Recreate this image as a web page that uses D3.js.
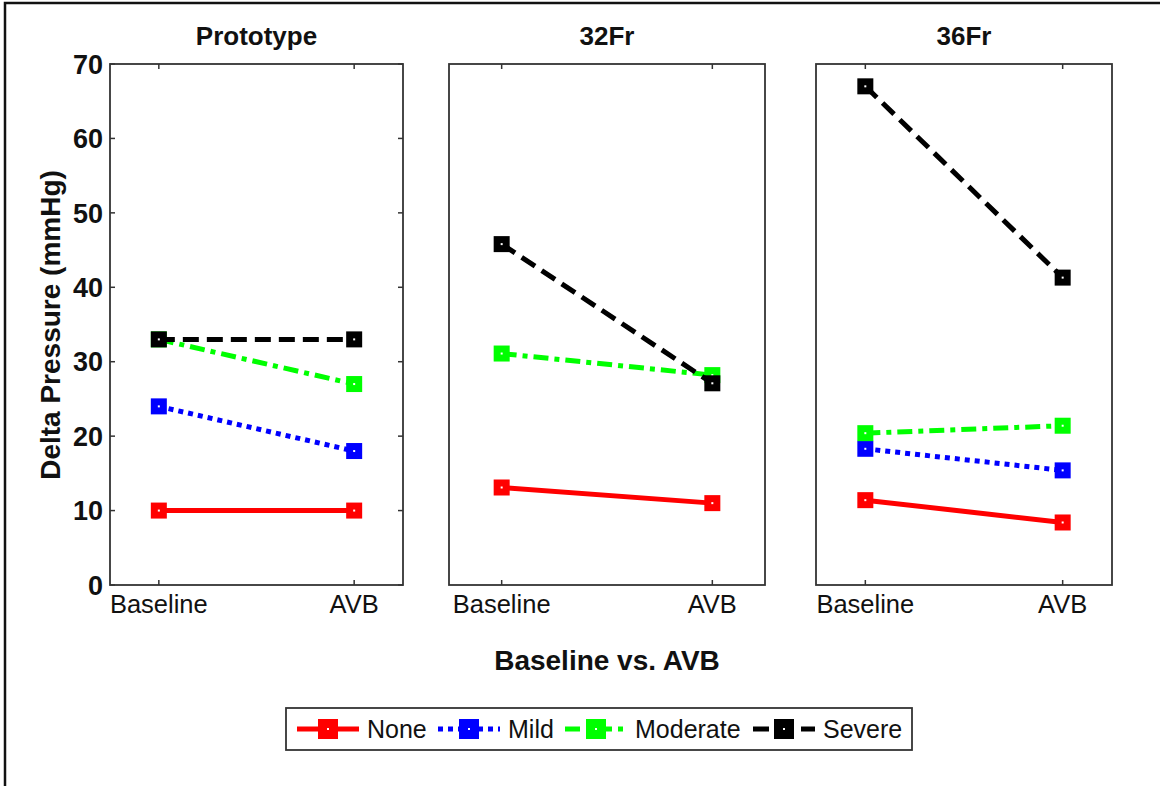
<!DOCTYPE html>
<html>
<head>
<meta charset="utf-8">
<script src="https://cdn.jsdelivr.net/npm/d3@7"></script>
<style>
  body { margin: 0; background: #fff; }
  svg { display: block; font-family: "Liberation Sans", Arial, sans-serif; }
</style>
</head>
<body>
<svg id="chart" width="1160" height="786"></svg>
<script>
// data
const panels = ["Prototype", "32Fr", "36Fr"];
const conditions = ["Baseline", "AVB"];
const severities = ["None", "Mild", "Moderate", "Severe"];
const noneVals = [[10, 10], [13.1, 11.0], [11.4, 8.4]];
const mildVals = [[24, 18], [null, null], [18.3, 15.4]];
const moderateVals = [[33, 27], [31.1, 28.2], [20.4, 21.4]];
const severeVals = [[33, 33], [45.8, 27.1], [67, 41.3]];
const yTicks = [0, 10, 20, 30, 40, 50, 60, 70];

let svg = d3.select("#chart");

// outer frame (only left / top edges visible)
svg.append("path")
    .attr("d", "M5,786V3H1160")
    .attr("fill", "none")
    .attr("stroke", "#111")
    .attr("stroke-width", 2.5);

let panelBox = [[110, 403], [449, 765], [816, 1112]];
let plotTop = 64, plotBottom = 585;

let y = d3.scaleLinear().domain([0, 70]).range([plotBottom, plotTop]);

let styles = [
    {color: "#ff0000", dash: null},
    {color: "#0000ff", dash: "5,5"},
    {color: "#00ff00", dash: "15,6,5,6"},
    {color: "#000000", dash: "16,8"}
];
let allVals = [noneVals, mildVals, moderateVals, severeVals];

panels.forEach(function (name, p) {
    let x = d3.scaleLinear().domain([0.75, 2.25]).range(panelBox[p]);
    let g = svg.append("g");

    // title
    g.append("text")
        .attr("x", (panelBox[p][0] + panelBox[p][1]) / 2)
        .attr("y", 45)
        .attr("text-anchor", "middle")
        .attr("font-size", 26)
        .attr("font-weight", "bold")
        .attr("fill", "#111")
        .text(name);

    // x ticks top & bottom
    let xt = g.append("g").attr("stroke", "#333").attr("stroke-width", 1.5);
    conditions.forEach(function (c, i) {
        let xp = x(i + 1);
        xt.append("line").attr("x1", xp).attr("x2", xp).attr("y1", plotBottom).attr("y2", plotBottom - 5);
        xt.append("line").attr("x1", xp).attr("x2", xp).attr("y1", plotTop).attr("y2", plotTop + 5);
        g.append("text")
            .attr("x", xp)
            .attr("y", 613)
            .attr("text-anchor", "middle")
            .attr("font-size", 25.5)
            .attr("fill", "#111")
            .text(c);
    });

    // y axis only on first panel
    if (p == 0) {
        yTicks.forEach(function (t) {
            xt.append("line").attr("x1", panelBox[p][0]).attr("x2", panelBox[p][0] + 5)
                .attr("y1", y(t)).attr("y2", y(t));
            xt.append("line").attr("x1", panelBox[p][1]).attr("x2", panelBox[p][1] - 5)
                .attr("y1", y(t)).attr("y2", y(t));
            g.append("text")
                .attr("x", 103)
                .attr("y", y(t))
                .attr("dy", "0.36em")
                .attr("text-anchor", "end")
                .attr("font-size", 27)
                .attr("font-weight", "bold")
                .attr("fill", "#111")
                .text(t);
        });
    }

    // series
    let line = d3.line()
        .defined(function (d) { return d != null; })
        .x(function (d, i) { return x(i + 1); })
        .y(function (d) { return y(d); });

    allVals.forEach(function (vals, s) {
        let v = vals[p];
        if (v[0] == null) return;
        g.append("path")
            .attr("d", line(v))
            .attr("fill", "none")
            .attr("stroke", styles[s].color)
            .attr("stroke-width", 5)
            .attr("stroke-dasharray", styles[s].dash);
        v.forEach(function (d, i) {
            g.append("rect")
                .attr("x", x(i + 1) - 8).attr("y", y(d) - 8)
                .attr("width", 16).attr("height", 16)
                .attr("fill", styles[s].color);
            g.append("rect")
                .attr("x", x(i + 1) - 1).attr("y", y(d) - 1)
                .attr("width", 2).attr("height", 2)
                .attr("fill", "#fff");
        });
    });

    // box
    g.append("rect")
        .attr("x", panelBox[p][0]).attr("y", plotTop)
        .attr("width", panelBox[p][1] - panelBox[p][0]).attr("height", plotBottom - plotTop)
        .attr("fill", "none")
        .attr("stroke", "#333")
        .attr("stroke-width", 1.8);
});

// axis titles
svg.append("text")
    .attr("x", 607).attr("y", 670)
    .attr("text-anchor", "middle")
    .attr("font-size", 28)
    .attr("font-weight", "bold")
    .attr("fill", "#111")
    .text("Baseline vs. AVB");

svg.append("text")
    .attr("transform", "translate(60,325) rotate(-90)")
    .attr("text-anchor", "middle")
    .attr("font-size", 28)
    .attr("font-weight", "bold")
    .attr("fill", "#111")
    .text("Delta Pressure (mmHg)");

// legend
let legend = svg.append("g");
legend.append("rect")
    .attr("x", 286).attr("y", 708).attr("width", 626).attr("height", 42)
    .attr("fill", "#fff").attr("stroke", "#333").attr("stroke-width", 1.8);

let legendX = [297, 438, 565, 753];
severities.forEach(function (s, i) {
    let x0 = legendX[i];
    legend.append("line")
        .attr("x1", x0).attr("x2", x0 + 62)
        .attr("y1", 729).attr("y2", 729)
        .attr("stroke", styles[i].color)
        .attr("stroke-width", 5)
        .attr("stroke-dasharray", styles[i].dash);
    legend.append("rect")
        .attr("x", x0 + 31 - 10).attr("y", 719).attr("width", 20).attr("height", 20)
        .attr("fill", styles[i].color);
    legend.append("rect")
        .attr("x", x0 + 30).attr("y", 728).attr("width", 2).attr("height", 2)
        .attr("fill", "#fff");
    legend.append("text")
        .attr("x", x0 + 70).attr("y", 738)
        .attr("font-size", 25)
        .attr("fill", "#111")
        .text(s);
});
</script>
</body>
</html>
